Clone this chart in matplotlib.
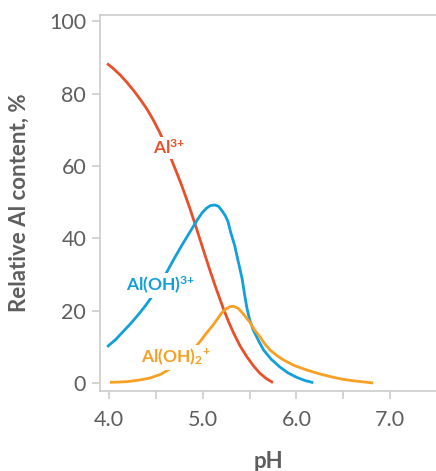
import matplotlib
matplotlib.use("Agg")
import matplotlib.pyplot as plt

plt.rcParams['font.family'] = ['Lato', 'DejaVu Sans']
plt.rcParams['mathtext.default'] = 'regular'

# Al3+ fraction vs pH
al3_ph = [3.98, 4.05, 4.12, 4.19, 4.26, 4.33, 4.40, 4.47, 4.54, 4.60, 4.67, 4.72, 4.78,
          4.86, 4.94, 5.01, 5.08, 5.15, 5.22, 5.28, 5.33, 5.40, 5.47, 5.54, 5.61, 5.68, 5.75]
al3_val = [88.3, 86.8, 85.1, 83.1, 80.9, 78.5, 75.9, 72.8, 69.3, 65.8, 61.5, 58.3, 54.3,
           48.5, 42.2, 36.5, 30.9, 25.6, 20.6, 16.7, 13.8, 10.2, 7.3, 4.8, 2.7, 1.2, 0.1]

# Al(OH)3+ fraction vs pH
aloh_ph = [3.98, 4.07, 4.15, 4.23, 4.31, 4.39, 4.47, 4.55, 4.62, 4.70, 4.79, 4.87, 4.94,
           4.99, 5.04, 5.08, 5.13, 5.17, 5.20, 5.24, 5.27, 5.30, 5.34, 5.38, 5.42, 5.45,
           5.47, 5.50, 5.54, 5.60, 5.65, 5.73, 5.82, 5.91, 6.00, 6.09, 6.18]
aloh_val = [10.0, 12.0, 14.2, 16.4, 18.8, 21.4, 24.3, 27.6, 30.8, 34.6, 38.6, 42.0, 45.0,
            46.9, 48.3, 49.0, 49.2, 48.8, 47.8, 46.3, 44.6, 41.5, 38.1, 33.5, 28.9, 24.0,
            21.0, 17.6, 14.6, 11.5, 9.1, 6.6, 4.5, 2.8, 1.6, 0.7, 0.1]

# Al(OH)2+ fraction vs pH
aloh2_ph = [4.01, 4.10, 4.20, 4.32, 4.44, 4.55, 4.65, 4.75, 4.83, 4.90, 4.97, 5.04, 5.11,
            5.16, 5.20, 5.25, 5.29, 5.33, 5.38, 5.43, 5.50, 5.55, 5.61, 5.66, 5.72, 5.79,
            5.86, 5.98, 6.11, 6.25, 6.39, 6.50, 6.61, 6.72, 6.82]
aloh2_val = [0.2, 0.25, 0.4, 0.8, 1.4, 2.4, 3.9, 5.6, 7.4, 9.3, 11.4, 13.8, 16.0,
             17.8, 19.3, 20.5, 21.1, 21.2, 20.6, 19.2, 16.9, 14.8, 12.8, 10.9, 9.1, 7.6,
             6.4, 4.8, 3.6, 2.5, 1.6, 1.0, 0.6, 0.3, 0.0]

x_ticks = [4.0, 5.0, 6.0, 7.0]
x_minor = [4.5, 5.5, 6.5]
y_ticks = [0, 20, 40, 60, 80, 100]

RED = '#e8502a'
BLUE = '#12a0da'
ORANGE = '#f7a024'
GREY = '#5e5e5e'
SPINE = '#cccccc'

fig = plt.figure(figsize=(4.36, 4.71), dpi=100)
ax = fig.add_axes([0.2294, 0.1699, 0.7706, 0.7983])

ax.plot(al3_ph, al3_val, color=RED, lw=2.0, solid_capstyle='butt', zorder=2)
ax.plot(aloh_ph, aloh_val, color=BLUE, lw=2.0, solid_capstyle='butt', zorder=2)
ax.plot(aloh2_ph, aloh2_val, color=ORANGE, lw=2.0, solid_capstyle='butt', zorder=2)

# labels sit on a white patch so the curve is broken behind them
box = dict(fc='white', ec='none', pad=1.5)
ax.text(4.47, 63.2, 'Al$^{3{+}}$', color=RED, fontsize=12.5, fontweight='bold',
        ha='left', va='baseline', bbox=box, zorder=3)
ax.text(4.18, 25.4, 'Al(OH)$^{3{+}}$', color=BLUE, fontsize=12.5, fontweight='bold',
        ha='left', va='baseline', bbox=box, zorder=3)
ax.text(4.34, 5.6, 'Al(OH)$_2$$^{+}$', color=ORANGE, fontsize=12.5, fontweight='bold',
        ha='left', va='baseline', bbox=box, zorder=3)

ax.set_xlim(3.904, 7.49)
ax.set_ylim(-2.2, 101.7)
ax.set_xticks(x_ticks)
ax.set_xticklabels([f'{t:.1f}' for t in x_ticks])
ax.set_xticks(x_minor, minor=True)
ax.set_yticks(y_ticks)

for s in ['left', 'bottom', 'top']:
    ax.spines[s].set_color(SPINE)
    ax.spines[s].set_linewidth(1.2)
ax.spines['right'].set_visible(False)

ax.tick_params(axis='both', which='both', color=SPINE, width=1.2, length=6,
               labelcolor=GREY, labelsize=15.5)
ax.tick_params(axis='x', pad=8)
ax.tick_params(axis='y', pad=4)

ax.set_xlabel('pH', fontsize=16, fontweight='bold', color=GREY, labelpad=15)
ax.set_ylabel('Relative Al content, %', fontsize=16, fontweight='bold', color=GREY, labelpad=14)

fig.savefig('out.png', dpi=100)
